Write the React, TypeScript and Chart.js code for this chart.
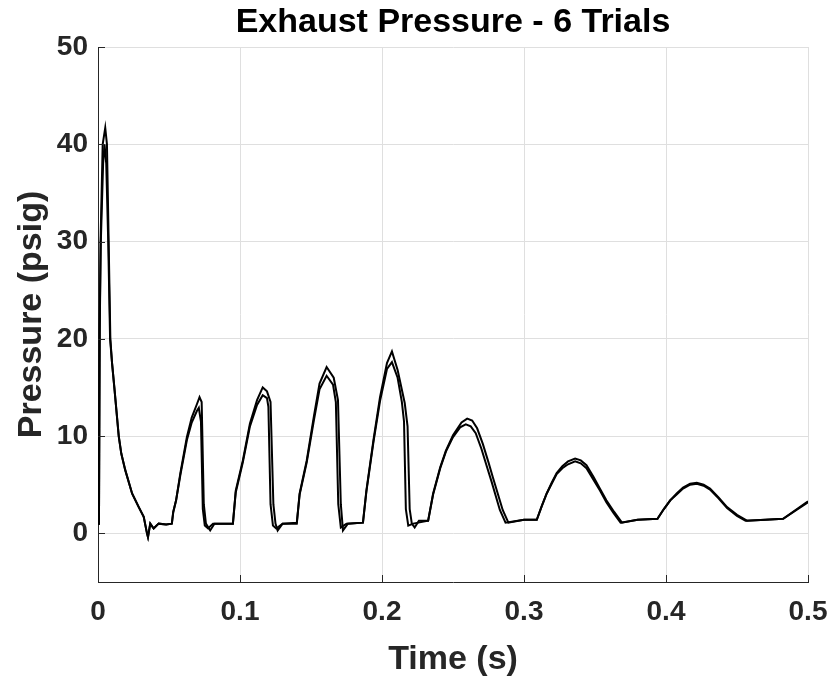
import React, { useEffect, useRef } from "react";
import { Chart, registerables } from "chart.js";

Chart.register(...registerables);

// Trials 1-3 (upper / later-falling trace group)
const timeA = [
  0, 0.0007, 0.0012, 0.0018, 0.0033, 0.0051, 0.0063, 0.0075, 0.0087, 0.0099,
  0.0115, 0.0146, 0.0164, 0.0192, 0.024, 0.0287, 0.0322, 0.0345, 0.0352, 0.0368,
  0.0392, 0.0427, 0.048, 0.052, 0.053, 0.055, 0.058, 0.0626, 0.066, 0.0697,
  0.0715, 0.073, 0.0745, 0.076, 0.079, 0.082, 0.095, 0.097, 0.102, 0.107,
  0.112, 0.116, 0.119, 0.1215, 0.1235, 0.125, 0.1265, 0.13, 0.14, 0.142,
  0.147, 0.152, 0.156, 0.161, 0.166, 0.169, 0.171, 0.1725, 0.176, 0.1866,
  0.189, 0.194, 0.1986, 0.2035, 0.207, 0.211, 0.216, 0.218, 0.2195, 0.221,
  0.223, 0.226, 0.2325, 0.236, 0.241, 0.245, 0.25, 0.256, 0.26, 0.2635,
  0.267, 0.271, 0.275, 0.278, 0.285, 0.289, 0.3, 0.309, 0.3125, 0.316,
  0.3195, 0.323, 0.327, 0.331, 0.336, 0.34, 0.344, 0.349, 0.3535, 0.358,
  0.3635, 0.369, 0.38, 0.394, 0.3985, 0.403, 0.4075, 0.412, 0.417, 0.4217,
  0.4265, 0.431, 0.437, 0.443, 0.45, 0.457, 0.47, 0.4825, 0.5,
];
const pressureA = [
  1.0, 1.5, 21, 30, 40, 41.7, 40, 30, 20, 17.5,
  15.0, 10.0, 8.2, 6.5, 4.1, 2.7, 1.7, 0.0, -0.4, 1.0,
  0.5, 1.0, 0.9, 1.0, 2.2, 3.4, 6.2, 9.9, 11.9, 13.3,
  14.0, 13.5, 3.0, 1.0, 0.3, 1.0, 1.0, 4.4, 7.5, 11.3,
  13.7, 15.0, 14.6, 13.5, 3.0, 1.0, 0.3, 1.0, 1.1, 4.1,
  7.5, 12.0, 15.4, 17.1, 16.0, 13.7, 3.0, 0.3, 1.0, 1.1,
  4.4, 9.6, 14.0, 17.5, 18.7, 16.8, 13.4, 11.0, 2.5, 1.0,
  0.6, 1.3, 1.3, 4.1, 6.8, 8.5, 10.1, 11.4, 11.8, 11.6,
  10.8, 9.2, 7.3, 5.8, 2.4, 1.1, 1.4, 1.4, 2.8, 4.1,
  5.2, 6.2, 6.9, 7.4, 7.7, 7.5, 7.0, 5.8, 4.6, 3.4,
  2.2, 1.1, 1.4, 1.5, 2.5, 3.4, 4.1, 4.7, 5.1, 5.2,
  5.0, 4.6, 3.7, 2.7, 1.9, 1.3, 1.4, 1.5, 3.3,
];

// Trials 4-6 (lower / earlier-falling trace group)
const timeB = [
  0, 0.0007, 0.0012, 0.002, 0.0036, 0.0046, 0.0058, 0.0072, 0.0085, 0.0099,
  0.0115, 0.0146, 0.0164, 0.0192, 0.024, 0.0287, 0.0322, 0.0345, 0.0352, 0.0368,
  0.0392, 0.0427, 0.048, 0.052, 0.053, 0.055, 0.058, 0.0626, 0.066, 0.0697,
  0.071, 0.0725, 0.0738, 0.0752, 0.0775, 0.081, 0.095, 0.097, 0.102, 0.107,
  0.112, 0.116, 0.119, 0.12, 0.1215, 0.1232, 0.1255, 0.13, 0.14, 0.142,
  0.147, 0.152, 0.156, 0.161, 0.1655, 0.1675, 0.1692, 0.171, 0.175, 0.1866,
  0.189, 0.194, 0.1986, 0.2035, 0.207, 0.211, 0.214, 0.2155, 0.2168, 0.2185,
  0.222, 0.2325, 0.236, 0.241, 0.245, 0.25, 0.255, 0.259, 0.2625, 0.266,
  0.27, 0.274, 0.277, 0.283, 0.287, 0.3, 0.309, 0.3125, 0.316, 0.3195,
  0.323, 0.327, 0.331, 0.336, 0.34, 0.344, 0.349, 0.3535, 0.358, 0.363,
  0.368, 0.38, 0.394, 0.3985, 0.403, 0.4075, 0.412, 0.417, 0.4217, 0.4265,
  0.431, 0.437, 0.443, 0.45, 0.456, 0.47, 0.4825, 0.5,
];
const pressureB = [
  1.0, 1.5, 21, 30, 38, 40, 38, 30, 20, 17.5,
  15.0, 10.0, 8.2, 6.5, 4.1, 2.7, 1.7, 0.0, -0.4, 1.0,
  0.5, 1.0, 0.9, 1.0, 2.2, 3.4, 6.0, 9.6, 11.4, 12.6,
  12.9, 11.5, 2.5, 0.8, 0.5, 1.0, 1.0, 4.2, 7.3, 11.0,
  13.2, 14.2, 13.9, 13.0, 3.0, 0.8, 0.5, 1.0, 1.0, 4.0,
  7.3, 11.6, 14.8, 16.2, 15.3, 13.5, 3.0, 0.6, 1.0, 1.1,
  4.3, 9.4, 13.6, 16.9, 17.6, 16.0, 13.5, 11.5, 2.5, 0.8,
  1.0, 1.3, 4.0, 6.7, 8.4, 9.9, 10.9, 11.2, 11.0, 10.3,
  8.7, 6.8, 5.4, 2.4, 1.1, 1.4, 1.4, 2.8, 4.1, 5.1,
  6.1, 6.7, 7.1, 7.4, 7.2, 6.7, 5.5, 4.4, 3.2, 2.1,
  1.1, 1.4, 1.5, 2.5, 3.4, 4.0, 4.6, 5.0, 5.1, 4.9,
  4.5, 3.6, 2.6, 1.8, 1.3, 1.4, 1.5, 3.2,
];

const xTickValues = [0, 0.1, 0.2, 0.3, 0.4, 0.5];
const xTickLabels = ["0", "0.1", "0.2", "0.3", "0.4", "0.5"];
const yTickValues = [0, 10, 20, 30, 40, 50];
const yTickLabels = ["0", "10", "20", "30", "40", "50"];

const FONT = "'Liberation Sans', Arial, Helvetica, sans-serif";
const AXIS_COLOR = "#262626";
const GRID_COLOR = "#dfdfdf";

const inwardTicks = {
  id: "inwardTicks",
  afterDatasetsDraw(chart: any) {
    const { ctx, chartArea, scales } = chart;
    ctx.save();
    ctx.strokeStyle = AXIS_COLOR;
    ctx.lineWidth = 1;
    ctx.beginPath();
    for (const v of yTickValues) {
      const y = Math.round(scales.y.getPixelForValue(v)) + 0.5;
      ctx.moveTo(chartArea.left, y);
      ctx.lineTo(chartArea.left + 7, y);
    }
    for (const v of xTickValues) {
      const x = Math.round(scales.x.getPixelForValue(v)) + 0.5;
      ctx.moveTo(x, chartArea.bottom);
      ctx.lineTo(x, chartArea.bottom - 7);
    }
    ctx.stroke();
    ctx.restore();
  },
};

function toPoints(t: number[], p: number[]) {
  return t.map((x, i) => ({ x, y: p[i] }));
}

export default function App() {
  const canvasRef = useRef<HTMLCanvasElement | null>(null);

  useEffect(() => {
    const canvas = canvasRef.current;
    if (!canvas) return;
    const chart = new Chart(canvas, {
      type: "line",
      data: {
        datasets: [
          {
            label: "Trials 1-3",
            data: toPoints(timeA, pressureA),
            borderColor: "#000000",
            borderWidth: 2,
            pointRadius: 0,
            tension: 0,
            fill: false,
          },
          {
            label: "Trials 4-6",
            data: toPoints(timeB, pressureB),
            borderColor: "#000000",
            borderWidth: 2,
            pointRadius: 0,
            tension: 0,
            fill: false,
          },
        ],
      },
      options: {
        responsive: false,
        animation: false,
        layout: { padding: { left: 0, right: 23, top: 0, bottom: 0 } },
        plugins: {
          legend: { display: false },
          tooltip: { enabled: false },
          title: {
            display: true,
            text: "Exhaust Pressure - 6 Trials",
            fullSize: false,
            color: "#000000",
            font: { family: FONT, size: 34, weight: "bold", lineHeight: 1.2 },
            padding: { top: 2, bottom: 4.2 },
          },
        },
        scales: {
          x: {
            type: "linear",
            min: 0,
            max: 0.5,
            afterBuildTicks: (s: any) => {
              s.ticks = xTickValues.map((v) => ({ value: v }));
            },
            afterFit: (s: any) => {
              s.height = 99;
              s.paddingLeft = 0;
              s.paddingRight = 0;
            },
            ticks: {
              callback: (_v: any, i: number) => xTickLabels[i],
              color: AXIS_COLOR,
              font: { family: FONT, size: 28, weight: "bold" },
              padding: 13,
              maxRotation: 0,
              autoSkip: false,
            },
            grid: { color: GRID_COLOR, drawTicks: false, lineWidth: 1 },
            border: { color: AXIS_COLOR, width: 1 },
            title: {
              display: true,
              text: "Time (s)",
              color: AXIS_COLOR,
              font: { family: FONT, size: 34, weight: "bold", lineHeight: 1.2 },
              padding: { top: 0, bottom: 1 },
            },
          },
          y: {
            type: "linear",
            min: -5,
            max: 50,
            afterBuildTicks: (s: any) => {
              s.ticks = yTickValues.map((v) => ({ value: v }));
            },
            afterFit: (s: any) => {
              s.width = 98;
              s.paddingTop = 0;
              s.paddingBottom = 0;
            },
            ticks: {
              callback: (_v: any, i: number) => yTickLabels[i],
              color: AXIS_COLOR,
              font: { family: FONT, size: 28, weight: "bold" },
              padding: 10,
              autoSkip: false,
            },
            grid: { color: GRID_COLOR, drawTicks: false, lineWidth: 1 },
            border: { color: AXIS_COLOR, width: 1 },
            title: {
              display: true,
              text: "Pressure (psig)",
              color: AXIS_COLOR,
              font: { family: FONT, size: 34, weight: "bold", lineHeight: 1.2 },
              padding: { top: 11, bottom: 0 },
            },
          },
        },
      },
      plugins: [inwardTicks],
    } as any);
    return () => chart.destroy();
  }, []);

  return (
    <div style={{ position: "absolute", left: 0, top: 0, width: 831, height: 681, background: "#ffffff" }}>
      <canvas ref={canvasRef} width={831} height={681} />
    </div>
  );
}
